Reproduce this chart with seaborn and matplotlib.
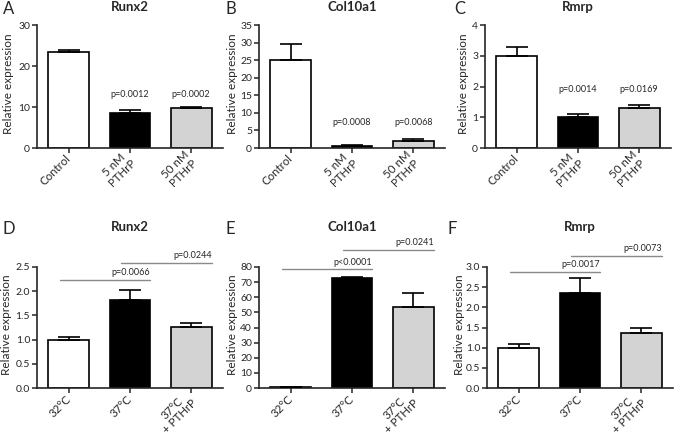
import numpy as np
import pandas as pd
import matplotlib
matplotlib.use("Agg")
import matplotlib.pyplot as plt
import seaborn as sns

# Groups
groups_top = ["Control", "5 nM\nPTHrP", "50 nM\nPTHrP"]
groups_bottom = ["32°C", "37°C", "37°C\n+ PTHrP"]

# Top row: PTHrP treatment
runx2_top = [23.5, 8.5, 9.7]
runx2_top_err = [0.3, 0.8, 0.3]
col10a1_top = [24.9, 0.5, 1.9]
col10a1_top_err = [4.7, 0.25, 0.65]
rmrp_top = [3.0, 1.0, 1.3]
rmrp_top_err = [0.3, 0.1, 0.1]
pvals_top = {
    "Runx2": ["p=0.0012", "p=0.0002"],
    "Col10a1": ["p=0.0008", "p=0.0068"],
    "Rmrp": ["p=0.0014", "p=0.0169"],
}
pval_y_top = [13.0, 7.3, 1.89]

# Bottom row: temperature
runx2_bottom = [1.0, 1.82, 1.27]
runx2_bottom_err = [0.06, 0.2, 0.08]
col10a1_bottom = [0.9, 72.8, 53.4]
col10a1_bottom_err = [0.05, 0.4, 9.1]
rmrp_bottom = [1.0, 2.35, 1.37]
rmrp_bottom_err = [0.08, 0.38, 0.12]
pvals_bottom = [["p=0.0066", "p=0.0244"], ["p<0.0001", "p=0.0241"], ["p=0.0017", "p=0.0073"]]
bracket_y_bottom = [[2.23, 2.59], [78.4, 91.5], [2.88, 3.27]]

bar_colors = ["white", "black", "#d3d3d3"]

sns.set_style("ticks")
plt.rcParams["font.family"] = ["Lato", "DejaVu Sans"]

W, H = 675, 434
fig = plt.figure(figsize=(W / 100, H / 100), dpi=100)


def make_ax(left, top, right, bottom):
    return fig.add_axes([left / W, 1 - bottom / H, (right - left) / W, (bottom - top) / H])


def draw_panel(ax, groups, vals, errs, ylim, yticks, title, letter, lx, ly, label_off, fmt):
    df = pd.DataFrame({"group": groups, "value": vals})
    sns.barplot(data=df, x="group", y="value", hue="group", palette=bar_colors,
                edgecolor="black", linewidth=1.2, width=0.67, legend=False,
                errorbar=None, ax=ax, order=groups, hue_order=groups)
    x = np.arange(len(groups))
    ax.errorbar(x, vals, yerr=[np.zeros(len(errs)), errs], fmt="none",
                ecolor="black", elinewidth=1.2, capsize=8, capthick=1.2, zorder=3)
    ax.set_xlim(-0.52, 2.52)
    ax.set_ylim(*ylim)
    ax.set_yticks(yticks)
    ax.set_yticklabels([fmt.format(t) for t in yticks])
    ax.set_xticks(x)
    ax.set_xticklabels(groups, rotation=45, ha="right", va="center",
                       rotation_mode="anchor", multialignment="center",
                       linespacing=1.0)
    ax.set_xlabel("")
    ax.set_ylabel("Relative expression", fontsize=8.5)
    pos = ax.get_position()
    ax.yaxis.set_label_coords(label_off / (pos.width * W), 0.52)
    ax.tick_params(axis="both", labelsize=7.5, length=3.5, width=1.1, pad=1.5)
    ax.tick_params(axis="x", pad=3, labelsize=8.3)
    for s in ["left", "bottom"]:
        ax.spines[s].set_linewidth(1.2)
    sns.despine(ax=ax)
    ax.set_title(title, fontsize=9.5, fontweight="bold", pad=10)
    fig.text(lx / W, 1 - ly / H, letter, fontsize=12, va="center", ha="left")


# Top row
tops = [(runx2_top, runx2_top_err, (0, 30), [0, 10, 20, 30], "Runx2", "A", 37, 3, -23),
        (col10a1_top, col10a1_top_err, (0, 35), list(range(0, 36, 5)), "Col10a1", "B", 259, 226, -21),
        (rmrp_top, rmrp_top_err, (0, 4), [0, 1, 2, 3, 4], "Rmrp", "C", 485, 454, -16)]
for (vals, errs, ylim, yt, title, letter, left, lx, loff), y_p in zip(tops, pval_y_top):
    ax = make_ax(left, 25, left + 186, 148)
    draw_panel(ax, groups_top, vals, errs, ylim, yt, title, letter, lx, 9, loff, "{:g}")
    for i, p in enumerate(pvals_top[title]):
        ax.text(i + 1, y_p, p, ha="center", va="center", fontsize=6.5)

# Bottom row
bottoms = [(runx2_bottom, runx2_bottom_err, (0, 2.5), [0, 0.5, 1.0, 1.5, 2.0, 2.5], "Runx2", "D", 37, 3, -25, "{:.1f}"),
           (col10a1_bottom, col10a1_bottom_err, (0, 80), list(range(0, 81, 10)), "Col10a1", "E", 259, 226, -21, "{:g}"),
           (rmrp_bottom, rmrp_bottom_err, (0, 3.0), [0, 0.5, 1.0, 1.5, 2.0, 2.5, 3.0], "Rmrp", "F", 487, 447, -22, "{:.1f}")]
for (vals, errs, ylim, yt, title, letter, left, lx, loff, fmt), ps, ys in zip(bottoms, pvals_bottom, bracket_y_bottom):
    ax = make_ax(left, 267, left + 186, 388)
    draw_panel(ax, groups_bottom, vals, errs, ylim, yt, title, letter, lx, 229, loff, fmt)
    ax.set_title(title, fontsize=9.5, fontweight="bold", pad=26)
    for j, (p, yb) in enumerate(zip(ps, ys)):
        x0, x1 = j - 0.15, j + 1 + 0.335
        ax.plot([x0, x1], [yb, yb], color="#8a8a8a", lw=1, clip_on=False)
        ax.annotate(p, xy=(x1, yb), xytext=(0, 2), textcoords="offset points",
                    ha="right", va="bottom", fontsize=6.5, annotation_clip=False)

fig.savefig("out.png", dpi=100)
